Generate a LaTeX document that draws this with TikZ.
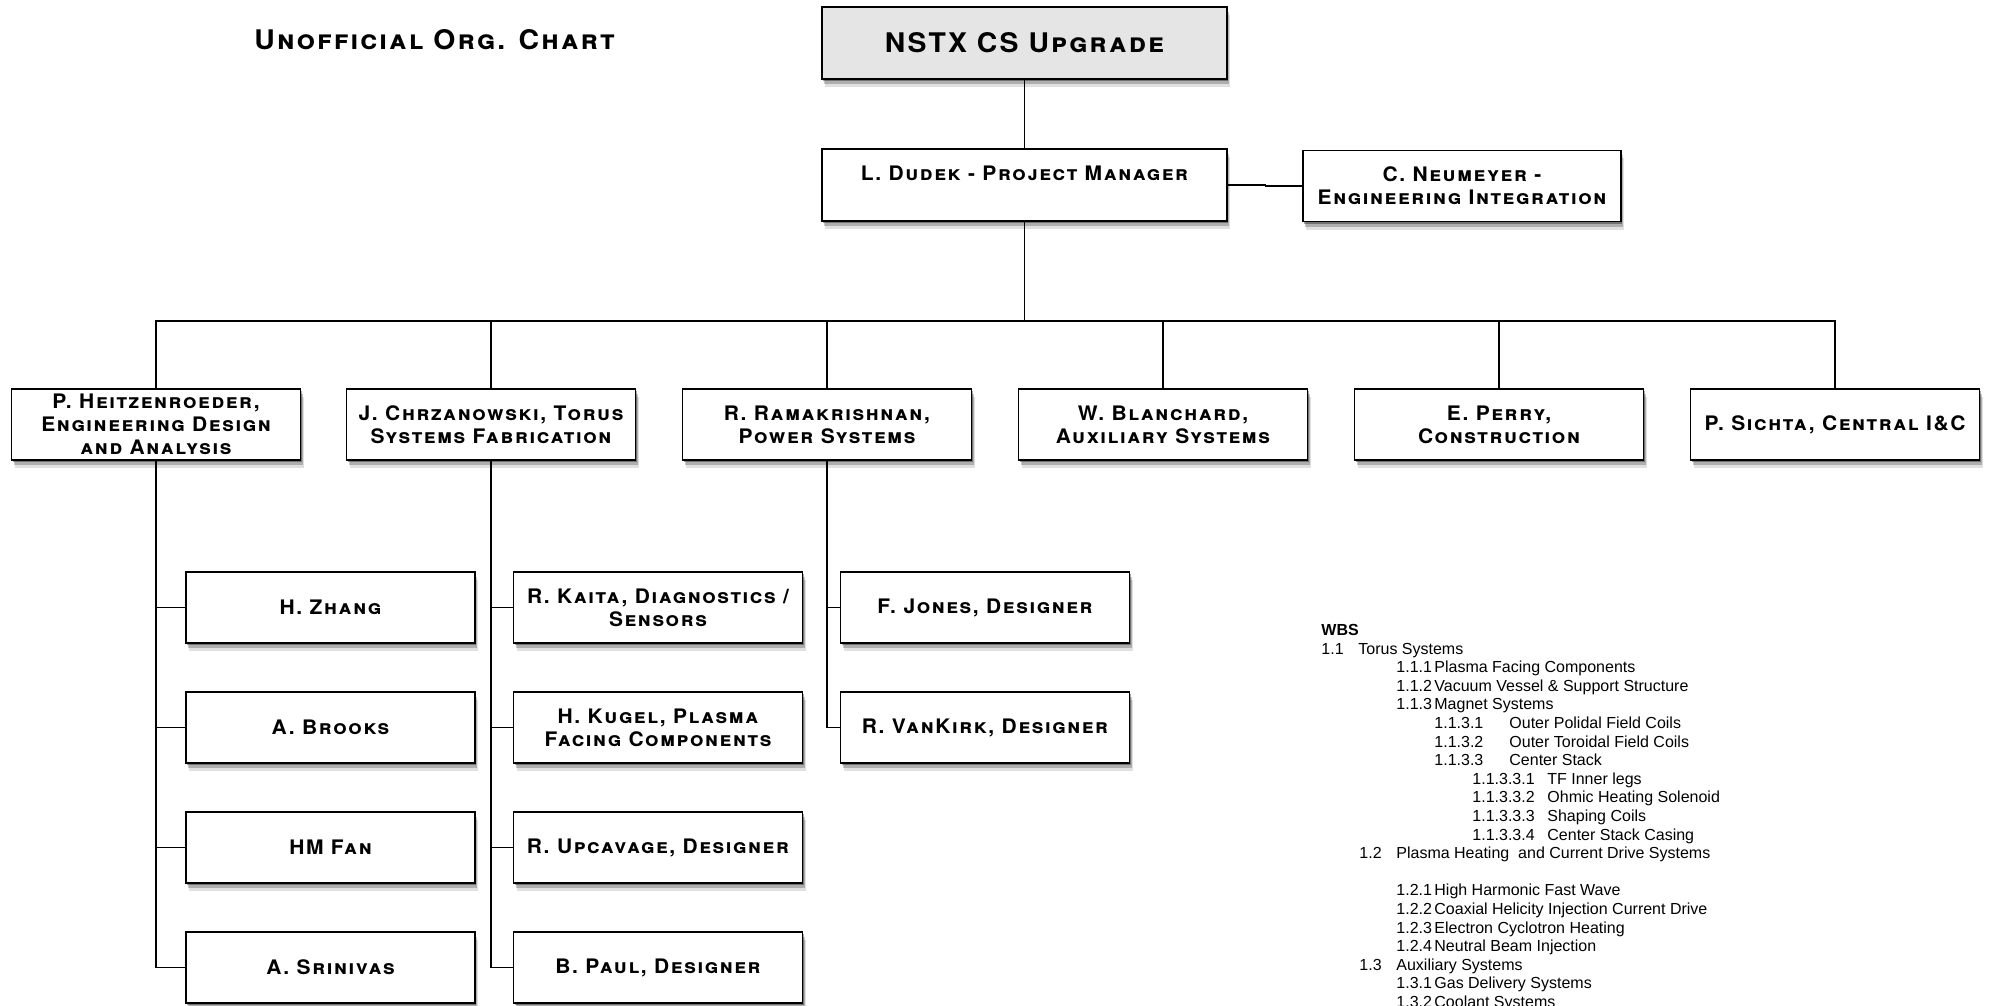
\documentclass[tikz,border=0pt]{standalone}
\usepackage{fontspec}
\setmainfont{TeX Gyre Heros}
\newfontfamily\boxfont[FakeStretch=1.05,LetterSpace=8]{TeX Gyre Heros}
\newfontfamily\wbsfont{Liberation Sans}
\usetikzlibrary{shadows}
\begin{document}
\begin{tikzpicture}[x=0.5pt,y=-0.5pt,
  orgbox/.style={draw=black, line width=0.7pt, fill=white,
    minimum width=144.5pt, minimum height=35.5pt, inner sep=0.5pt, align=center,
    font=\boxfont\bfseries\scshape\fontsize{10}{11.5}\selectfont,
    drop shadow={shadow xshift=0.5pt, shadow yshift=-1pt, opacity=0.35, fill=black},
    drop shadow={shadow xshift=1pt, shadow yshift=-2.5pt, opacity=0.22, fill=black},
    drop shadow={shadow xshift=1.5pt, shadow yshift=-4pt, opacity=0.12, fill=black}},
  topbox/.style={orgbox, line width=1.4pt, fill=black!10, minimum width=202.5pt, minimum height=36pt,
    font=\boxfont\bfseries\scshape\fontsize{13.5}{15}\selectfont},
  widebox/.style={orgbox, minimum width=202.5pt, minimum height=36pt},
  link/.style={draw=black, line width=0.6pt},
  wbs/.style={anchor=base west, inner sep=0pt, font=\wbsfont\fontsize{8}{9}\selectfont},
]
\useasboundingbox (0,0) rectangle (1992,1006);
\fill[white] (0,0) rectangle (1992,1006);

% title
\node[anchor=west, inner sep=0pt, font=\boxfont\bfseries\scshape\fontsize{13.5}{15}\selectfont] (title) at (254,40) {Unofficial Org. Chart};

% top levels
\node[topbox] (top) at (1024.5,43) {NSTX CS Upgrade};
\node[widebox] (dudek) at (1024.5,185) {L. Dudek - Project Manager\\\mbox{}};
\node[orgbox, minimum width=159pt] (neum) at (1462,186) {C. Neumeyer -\\Engineering Integration};

% level 2
\node[orgbox] (heitz) at (156,424.5) {P. Heitzenroeder,\\Engineering Design\\and Analysis};
\node[orgbox] (chrz) at (491,424.5) {J. Chrzanowski, Torus\\Systems Fabrication};
\node[orgbox] (rama) at (827,424.5) {R. Ramakrishnan,\\Power Systems};
\node[orgbox] (blan) at (1163,424.5) {W. Blanchard,\\Auxiliary Systems};
\node[orgbox] (perry) at (1499,424.5) {E. Perry,\\Construction};
\node[orgbox] (sichta) at (1835,424.5) {P. Sichta, Central I\&C};

% level 3
\node[orgbox] (zhang) at (330.5,607.5) {H. Zhang};
\node[orgbox] (brooks) at (330.5,727.5) {A. Brooks};
\node[orgbox] (fan) at (330.5,847.5) {HM Fan};
\node[orgbox] (srin) at (330.5,967.5) {A. Srinivas};

\node[orgbox] (kaita) at (658,607.5) {R. Kaita, Diagnostics /\\Sensors};
\node[orgbox] (kugel) at (658,727.5) {H. Kugel, Plasma\\Facing Components};
\node[orgbox] (upca) at (658,847.5) {R. Upcavage, Designer};
\node[orgbox] (paul) at (658,967.5) {B. Paul, Designer};

\node[orgbox] (jones) at (985,607.5) {F. Jones, Designer};
\node[orgbox] (vankirk) at (985,727.5) {R. VanKirk, Designer};

% connectors
\draw[link] (top.south) -- (dudek.north);
\draw[link] (dudek.east) -- ++(38,0) |- (neum.west);
\coordinate (bus) at (1024.5,321);
\draw[link] (dudek.south) -- (bus);
\foreach \n in {heitz,chrz,rama,blan,perry,sichta} \draw[link] (bus) -| (\n.north);
\foreach \n in {zhang,brooks,fan,srin} \draw[link] (heitz.south) |- (\n.west);
\foreach \n in {kaita,kugel,upca,paul} \draw[link] (chrz.south) |- (\n.west);
\foreach \n in {jones,vankirk} \draw[link] (rama.south) |- (\n.west);

% WBS list
\node[wbs, font=\wbsfont\bfseries\fontsize{8}{9}\selectfont] (w1) at (1321,635.5) {WBS};
\node[wbs] (w2a) at (1321,654.1) {1.1};
\node[wbs] (w2b) at (1358,654.1) {Torus Systems};
\node[wbs] (w3a) at (1396,672.7) {1.1.1};
\node[wbs] (w3b) at (1434,672.7) {Plasma Facing Components};
\node[wbs] (w4a) at (1396,691.3) {1.1.2};
\node[wbs] (w4b) at (1434,691.3) {Vacuum Vessel \& Support Structure};
\node[wbs] (w5a) at (1396,709.9) {1.1.3};
\node[wbs] (w5b) at (1434,709.9) {Magnet Systems};
\node[wbs] (w6a) at (1434,728.5) {1.1.3.1};
\node[wbs] (w6b) at (1509,728.5) {Outer Polidal Field Coils};
\node[wbs] (w7a) at (1434,747.1) {1.1.3.2};
\node[wbs] (w7b) at (1509,747.1) {Outer Toroidal Field Coils};
\node[wbs] (w8a) at (1434,765.7) {1.1.3.3};
\node[wbs] (w8b) at (1509,765.7) {Center Stack};
\node[wbs] (w9a) at (1472,784.3) {1.1.3.3.1};
\node[wbs] (w9b) at (1547,784.3) {TF Inner legs};
\node[wbs] (w10a) at (1472,802.9) {1.1.3.3.2};
\node[wbs] (w10b) at (1547,802.9) {Ohmic Heating Solenoid};
\node[wbs] (w11a) at (1472,821.5) {1.1.3.3.3};
\node[wbs] (w11b) at (1547,821.5) {Shaping Coils};
\node[wbs] (w12a) at (1472,840.1) {1.1.3.3.4};
\node[wbs] (w12b) at (1547,840.1) {Center Stack Casing};
\node[wbs] (w13a) at (1359,858.7) {1.2};
\node[wbs] (w13b) at (1396,858.7) {Plasma Heating\ \ and Current Drive Systems};
\node[wbs] (w15a) at (1396,895.9) {1.2.1};
\node[wbs] (w15b) at (1434,895.9) {High Harmonic Fast Wave};
\node[wbs] (w16a) at (1396,914.5) {1.2.2};
\node[wbs] (w16b) at (1434,914.5) {Coaxial Helicity Injection Current Drive};
\node[wbs] (w17a) at (1396,933.1) {1.2.3};
\node[wbs] (w17b) at (1434,933.1) {Electron Cyclotron Heating};
\node[wbs] (w18a) at (1396,951.7) {1.2.4};
\node[wbs] (w18b) at (1434,951.7) {Neutral Beam Injection};
\node[wbs] (w19a) at (1359,970.3) {1.3};
\node[wbs] (w19b) at (1396,970.3) {Auxiliary Systems};
\node[wbs] (w20a) at (1396,988.9) {1.3.1};
\node[wbs] (w20b) at (1434,988.9) {Gas Delivery Systems};
\node[wbs] (w21a) at (1396,1007.5) {1.3.2};
\node[wbs] (w21b) at (1434,1007.5) {Coolant Systems};
\end{tikzpicture}
\end{document}
